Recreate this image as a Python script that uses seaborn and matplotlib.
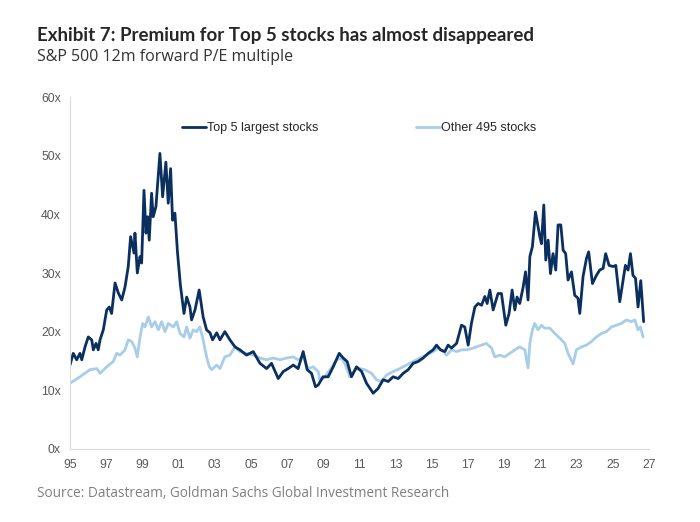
import numpy as np
import pandas as pd
import matplotlib.pyplot as plt
import seaborn as sns

# Top 5 largest stocks, 12m fwd P/E
top5_year = [1995.00, 1995.18, 1995.37, 1995.55, 1995.65, 1995.83, 1996.01, 1996.20, 1996.29, 1996.44,
             1996.56, 1996.66, 1996.84, 1997.03, 1997.17, 1997.30, 1997.49, 1997.67, 1997.86, 1998.04,
             1998.22, 1998.35, 1998.54, 1998.59, 1998.72, 1998.87, 1998.96, 1999.09, 1999.20, 1999.29,
             1999.38, 1999.51, 1999.60, 1999.75, 1999.97, 2000.12, 2000.30, 2000.43, 2000.56, 2000.67,
             2000.80, 2000.94, 2001.10, 2001.30, 2001.45, 2001.63, 2001.72, 2001.91, 2002.14, 2002.36,
             2002.55, 2002.74, 2002.88, 2003.11, 2003.29, 2003.56, 2003.84, 2004.12, 2004.39, 2004.76,
             2005.13, 2005.50, 2005.87, 2006.14, 2006.51, 2006.79, 2007.06, 2007.34, 2007.61, 2007.89,
             2008.11, 2008.35, 2008.57, 2008.72, 2008.99, 2009.27, 2009.55, 2009.88, 2010.10, 2010.32,
             2010.56, 2010.84, 2011.12, 2011.39, 2011.76, 2012.03, 2012.31, 2012.59, 2012.86, 2013.14,
             2013.42, 2013.69, 2013.97, 2014.24, 2014.52, 2014.80, 2015.07, 2015.26, 2015.48, 2015.72,
             2015.90, 2016.09, 2016.37, 2016.64, 2016.82, 2017.01, 2017.19, 2017.38, 2017.56, 2017.75,
             2017.93, 2018.06, 2018.21, 2018.39, 2018.66, 2018.85, 2019.09, 2019.27, 2019.44, 2019.59,
             2019.71, 2019.86, 2020.05, 2020.18, 2020.32, 2020.42, 2020.56, 2020.73, 2020.97, 2021.06,
             2021.19, 2021.30, 2021.43, 2021.56, 2021.70, 2021.85, 2021.98, 2022.13, 2022.26, 2022.40,
             2022.53, 2022.72, 2022.90, 2023.08, 2023.18, 2023.36, 2023.55, 2023.67, 2023.88, 2024.10,
             2024.28, 2024.47, 2024.61, 2024.80, 2025.02, 2025.17, 2025.39, 2025.70, 2025.85, 2025.98,
             2026.12, 2026.26, 2026.40, 2026.55, 2026.71]
top5_pe = [14.3, 16.3, 15.2, 16.3, 15.2, 17.4, 19.1, 18.6, 16.9, 18.0,
           16.9, 18.6, 20.3, 23.7, 24.2, 23.1, 28.3, 26.6, 25.4, 27.6,
           31.1, 36.2, 33.4, 36.8, 30.0, 32.8, 31.7, 44.1, 36.8, 39.6,
           35.6, 43.6, 39.6, 41.3, 50.4, 43.0, 48.9, 41.9, 47.8, 39.0,
           40.2, 33.6, 28.0, 23.1, 25.9, 24.2, 22.0, 23.7, 27.1, 22.5,
           20.3, 19.8, 18.6, 19.8, 18.6, 20.0, 18.6, 17.4, 16.9, 16.0,
           16.6, 14.6, 13.7, 14.6, 12.0, 13.2, 13.7, 14.3, 13.7, 16.6,
           13.5, 12.9, 10.6, 10.9, 12.3, 12.3, 14.0, 16.3, 15.5, 14.9,
           12.3, 14.0, 13.2, 11.2, 9.5, 10.3, 11.8, 11.5, 12.3, 12.0,
           12.9, 13.5, 14.6, 14.9, 15.5, 16.3, 16.9, 17.7, 16.9, 16.6,
           17.7, 17.2, 18.0, 21.1, 20.8, 17.7, 21.4, 24.2, 24.8, 24.5,
           26.0, 24.8, 27.1, 23.7, 26.5, 26.5, 21.1, 23.1, 27.1, 23.7,
           25.9, 24.8, 27.6, 30.2, 25.4, 32.8, 34.5, 40.4, 36.2, 35.0,
           41.6, 32.2, 35.6, 29.9, 33.3, 30.5, 38.2, 38.2, 33.9, 33.3,
           28.8, 30.2, 26.2, 25.7, 23.1, 29.4, 32.5, 33.6, 28.2, 29.6,
           30.5, 30.8, 33.3, 31.3, 31.1, 31.3, 25.1, 31.3, 30.5, 33.3,
           29.6, 29.1, 24.2, 28.7, 21.7]

# Other 495 stocks
other_year = [1995.00, 1995.55, 1996.10, 1996.48, 1996.66, 1997.03, 1997.39, 1997.58, 1997.76, 1998.04,
              1998.22, 1998.41, 1998.59, 1998.72, 1998.87, 1999.02, 1999.14, 1999.33, 1999.51, 1999.70,
              1999.88, 2000.07, 2000.25, 2000.43, 2000.71, 2000.90, 2001.08, 2001.30, 2001.45, 2001.63,
              2001.81, 2002.00, 2002.18, 2002.36, 2002.55, 2002.70, 2002.83, 2003.11, 2003.29, 2003.56,
              2003.84, 2004.12, 2004.39, 2004.76, 2005.13, 2005.50, 2005.87, 2006.23, 2006.60, 2006.97,
              2007.34, 2007.61, 2007.89, 2008.17, 2008.44, 2008.72, 2008.81, 2009.09, 2009.37, 2009.74,
              2010.01, 2010.19, 2010.47, 2010.75, 2011.02, 2011.30, 2011.67, 2011.94, 2012.22, 2012.50,
              2012.86, 2013.23, 2013.60, 2013.97, 2014.34, 2014.71, 2015.07, 2015.35, 2015.63, 2015.81,
              2016.09, 2016.37, 2016.64, 2016.92, 2017.28, 2017.65, 2018.02, 2018.30, 2018.48, 2018.76,
              2019.03, 2019.31, 2019.59, 2019.86, 2020.14, 2020.32, 2020.42, 2020.56, 2020.69, 2020.87,
              2021.06, 2021.24, 2021.52, 2021.80, 2022.07, 2022.35, 2022.53, 2022.81, 2022.99, 2023.27,
              2023.55, 2023.82, 2024.10, 2024.38, 2024.65, 2024.93, 2025.20, 2025.48, 2025.76, 2026.03,
              2026.22, 2026.40, 2026.53, 2026.68]
other_pe = [11.2, 12.3, 13.5, 13.7, 12.9, 14.0, 14.9, 16.3, 16.0, 16.9,
            18.6, 18.3, 17.2, 15.7, 19.1, 21.4, 20.8, 22.5, 20.8, 21.7,
            20.3, 21.7, 20.0, 21.4, 20.8, 21.7, 19.7, 19.1, 20.8, 18.9,
            20.3, 20.0, 20.8, 18.6, 15.7, 14.0, 13.5, 14.3, 13.7, 15.7,
            16.0, 17.4, 16.6, 16.3, 16.0, 15.5, 15.2, 15.5, 15.2, 15.5,
            15.7, 15.2, 15.7, 13.7, 14.0, 13.2, 11.8, 12.3, 13.5, 15.2,
            15.5, 14.6, 12.3, 13.5, 13.7, 13.5, 12.9, 11.8, 11.5, 12.6,
            13.2, 13.7, 14.3, 14.9, 15.5, 16.0, 16.6, 17.2, 16.6, 16.0,
            16.9, 16.6, 16.9, 16.9, 17.2, 17.6, 18.0, 17.2, 15.7, 16.0,
            15.7, 16.3, 16.9, 17.4, 16.9, 13.8, 18.0, 20.3, 21.4, 20.3,
            21.1, 20.6, 20.6, 19.7, 18.9, 18.0, 16.3, 14.5, 16.9, 17.4,
            17.7, 18.3, 19.1, 19.7, 20.0, 20.8, 21.1, 21.4, 22.0, 21.7,
            22.0, 20.3, 20.8, 19.1]

xtick_years = list(range(1995, 2028, 2))
ytick_vals = [0, 10, 20, 30, 40, 50, 60]

dark = '#0b2f5e'
light = '#a8cde9'
grey = '#595959'

sns.set_theme(style='white')
plt.rcParams['font.family'] = ['Liberation Sans', 'DejaVu Sans']
head_font = ['Lato', 'DejaVu Sans']

fig = plt.figure(figsize=(7, 5.22), dpi=100)
ax = fig.add_axes([0.1, 0.14, 0.827, 0.674])

sns.lineplot(x=other_year, y=other_pe, ax=ax, color=light, linewidth=2.0, label='Other 495 stocks')
sns.lineplot(x=top5_year, y=top5_pe, ax=ax, color=dark, linewidth=2.0, label='Top 5 largest stocks')

ax.set_xlim(1995, 2027)
ax.set_ylim(0, 60)
ax.set_xticks(xtick_years)
ax.set_xticklabels([f'{y % 100:02d}' for y in xtick_years])
ax.set_yticks(ytick_vals)
ax.set_yticklabels([f'{v}x' for v in ytick_vals])
ax.tick_params(axis='both', labelsize=8.8, colors=grey, length=3, color='#d9d9d9')
ax.tick_params(axis='x', pad=4)
for side in ['top', 'right']:
    ax.spines[side].set_visible(False)
for side in ['left', 'bottom']:
    ax.spines[side].set_color('#d9d9d9')
    ax.spines[side].set_linewidth(0.8)
ax.set_xlabel('')
ax.set_ylabel('')

handles, labels = ax.get_legend_handles_labels()
leg = ax.legend(handles[::-1], labels[::-1], loc='upper center', bbox_to_anchor=(0.50, 0.96),
                ncol=2, frameon=False, fontsize=9, handlelength=1.9, handletextpad=0.1,
                columnspacing=7.8)
for t in leg.get_texts():
    t.set_color('#262626')

fig.text(0.053, 0.932, 'Exhibit 7: Premium for Top 5 stocks has almost disappeared',
         fontsize=13.5, fontweight='bold', color='#262626', family=head_font,
         ha='left', va='center')
fig.text(0.053, 0.89, 'S&P 500 12m forward P/E multiple', fontsize=11.5, color='#333333',
         family=['Open Sans', 'DejaVu Sans'], ha='left', va='center')
fig.text(0.053, 0.054, 'Source: Datastream, Goldman Sachs Global Investment Research', fontsize=9.8,
         color='#7f7f7f', family=['Open Sans', 'DejaVu Sans'], ha='left', va='center')

fig.savefig('out.png', dpi=100)
